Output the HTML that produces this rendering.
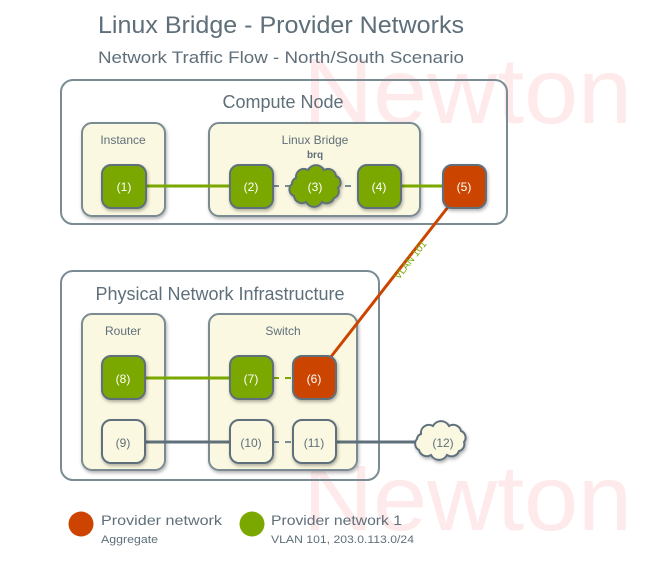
<!DOCTYPE html>
<html><head><meta charset="utf-8"><style>
html,body{margin:0;padding:0;background:#fff;}
svg{display:block;}
text{font-family:"Liberation Sans","DejaVu Sans",sans-serif;}
</style></head><body>
<svg width="652" height="562" viewBox="0 0 652 562" xmlns="http://www.w3.org/2000/svg">
<defs>
<filter id="sh" x="-20%" y="-20%" width="140%" height="140%"><feDropShadow dx="1" dy="2" stdDeviation="1.5" flood-color="#000" flood-opacity="0.3"/></filter>
</defs>
<text x="303" y="123" font-size="93" fill="#feeaea" textLength="329" lengthAdjust="spacingAndGlyphs">Newton</text>
<text x="303" y="530" font-size="93" fill="#feeaea" textLength="329" lengthAdjust="spacingAndGlyphs">Newton</text>

<text x="98" y="33" font-size="24" fill="#5f6f7a" textLength="366" lengthAdjust="spacingAndGlyphs">Linux Bridge - Provider Networks</text>
<text x="98" y="63" font-size="17" fill="#5f6f7a" textLength="366" lengthAdjust="spacingAndGlyphs">Network Traffic Flow - North/South Scenario</text>

<rect x="61" y="80" width="446" height="144" rx="12" fill="none" stroke="#7a8b94" stroke-width="2"/>
<text x="283" y="108" font-size="18" fill="#5f6f7a" text-anchor="middle">Compute Node</text>
<rect x="82" y="123" width="83" height="93" rx="10" fill="#fbf8e1" stroke="#7a8b94" stroke-width="2" filter="url(#sh)"/>
<text x="123" y="144" font-size="12" fill="#5f6f7a" text-anchor="middle">Instance</text>
<rect x="209" y="123" width="211" height="93" rx="10" fill="#fbf8e1" stroke="#7a8b94" stroke-width="2" filter="url(#sh)"/>
<text x="315" y="144" font-size="12" fill="#5f6f7a" text-anchor="middle">Linux Bridge</text>
<text x="315" y="158" font-size="10" font-weight="bold" fill="#5f6f7a" text-anchor="middle">brq</text>

<rect x="61" y="271" width="318" height="209" rx="12" fill="none" stroke="#7a8b94" stroke-width="2"/>
<text x="220" y="300" font-size="18" fill="#5f6f7a" text-anchor="middle">Physical Network Infrastructure</text>
<rect x="82" y="314" width="83" height="156" rx="10" fill="#fbf8e1" stroke="#7a8b94" stroke-width="2" filter="url(#sh)"/>
<text x="123" y="335" font-size="12" fill="#5f6f7a" text-anchor="middle">Router</text>
<rect x="209" y="314" width="148" height="156" rx="10" fill="#fbf8e1" stroke="#7a8b94" stroke-width="2" filter="url(#sh)"/>
<text x="283" y="335" font-size="12" fill="#5f6f7a" text-anchor="middle">Switch</text>

<line x1="146" y1="186" x2="230" y2="186" stroke="#7aa800" stroke-width="3"/>
<line x1="273" y1="186" x2="358" y2="186" stroke="#7a8b94" stroke-width="2" stroke-dasharray="6,6"/>
<line x1="401" y1="186" x2="443" y2="186" stroke="#7aa800" stroke-width="3"/>
<line x1="448" y1="207" x2="330" y2="358" stroke="#cc4400" stroke-width="3"/>
<text x="0" y="0" font-size="10" fill="#7aa800" text-anchor="middle" transform="translate(413,262) rotate(-52)">VLAN 101</text>
<line x1="145" y1="378" x2="230" y2="378" stroke="#7aa800" stroke-width="3"/>
<line x1="273" y1="378" x2="293" y2="378" stroke="#7aa800" stroke-width="2" stroke-dasharray="6,6"/>
<line x1="145" y1="442" x2="230" y2="442" stroke="#5f707b" stroke-width="3"/>
<line x1="273" y1="442" x2="293" y2="442" stroke="#7a8b94" stroke-width="2" stroke-dasharray="6,6"/>
<line x1="336" y1="442" x2="418" y2="442" stroke="#5f707b" stroke-width="3"/>

<g filter="url(#sh)" stroke="#5f707b" stroke-width="2">
<rect x="102" y="165" width="44" height="43" rx="9" fill="#7aa800"/>
<rect x="230" y="165" width="43" height="43" rx="9" fill="#7aa800"/>
<rect x="358" y="165" width="43" height="43" rx="9" fill="#7aa800"/>
<rect x="443" y="165" width="43" height="43" rx="9" fill="#cc4400"/>
<rect x="102" y="356" width="43" height="43" rx="9" fill="#7aa800"/>
<rect x="230" y="356" width="43" height="43" rx="9" fill="#7aa800"/>
<rect x="293" y="356" width="43" height="43" rx="9" fill="#cc4400"/>
<rect x="102" y="420" width="43" height="43" rx="9" fill="#fbf8e1"/>
<rect x="230" y="420" width="43" height="43" rx="9" fill="#fbf8e1"/>
<rect x="293" y="420" width="43" height="43" rx="9" fill="#fbf8e1"/>
<path d="M296,178 a8,8 0 0 1 12,-8 a9,9 0 0 1 16,0 a8,8 0 0 1 12,6 a7,7 0 0 1 2,12 a7,7 0 0 1 -4,10 a8,8 0 0 1 -12,4 a9,9 0 0 1 -16,0 a8,8 0 0 1 -12,-6 a7,7 0 0 1 -2,-12 a6,6 0 0 1 4,-6z" fill="#7aa800"/>
<path d="M421,434 a8,8 0 0 1 12,-8 a9,9 0 0 1 16,0 a8,8 0 0 1 12,5 a7,7 0 0 1 3,11 a7,7 0 0 1 -5,9 a8,8 0 0 1 -12,4 a9,9 0 0 1 -16,0 a8,8 0 0 1 -12,-5 a7,7 0 0 1 -2,-11 a6,6 0 0 1 4,-5z" fill="#fbf8e1"/>
</g>
<g font-size="12" text-anchor="middle" fill="#fff">
<text x="124" y="191">(1)</text>
<text x="251" y="191">(2)</text>
<text x="315" y="191">(3)</text>
<text x="379" y="191">(4)</text>
<text x="464" y="191">(5)</text>
<text x="123" y="383">(8)</text>
<text x="251" y="383">(7)</text>
<text x="314" y="383">(6)</text>
</g>
<g font-size="12" text-anchor="middle" fill="#5f6f7a">
<text x="123" y="447">(9)</text>
<text x="251" y="447">(10)</text>
<text x="314" y="447">(11)</text>
<text x="443" y="447">(12)</text>
</g>

<circle cx="81" cy="524" r="12.5" fill="#cc4400"/>
<text x="101" y="525" font-size="14" fill="#5f6f7a" textLength="121" lengthAdjust="spacingAndGlyphs">Provider network</text>
<text x="101" y="543" font-size="11" fill="#5f6f7a" textLength="57" lengthAdjust="spacingAndGlyphs">Aggregate</text>
<circle cx="252" cy="524" r="12.5" fill="#7aa800"/>
<text x="271" y="525" font-size="14" fill="#5f6f7a" textLength="131" lengthAdjust="spacingAndGlyphs">Provider network 1</text>
<text x="271" y="543" font-size="11" fill="#5f6f7a" textLength="143" lengthAdjust="spacingAndGlyphs">VLAN 101, 203.0.113.0/24</text>
</svg>
</body></html>
